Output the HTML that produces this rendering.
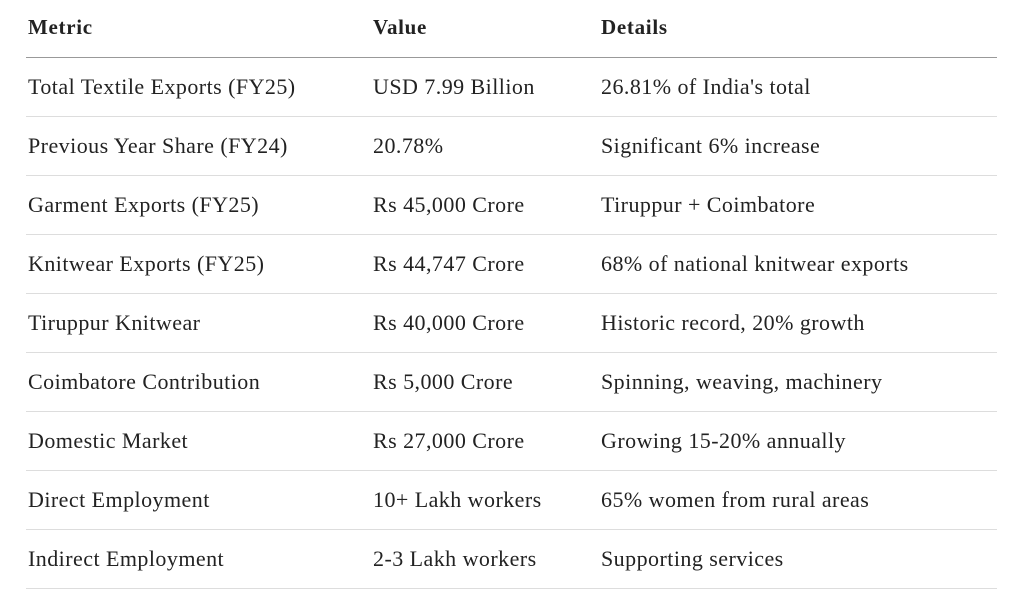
<!DOCTYPE html>
<html><head><style>
body{margin:0;width:1024px;height:613px;background:#fff;font-family:"Liberation Serif",serif;color:#222;overflow:hidden}
.r{position:absolute;left:26px;width:971px;height:59px}
.r span{position:absolute;font-size:22px;letter-spacing:0.45px;line-height:24px;top:17px;white-space:nowrap}
.a{left:2px}.b{left:347px}.c{left:575px}
.l{position:absolute;left:26px;width:971px;height:1px;background:#ddd}
.h span{font-weight:bold;top:15px;font-size:21px;letter-spacing:0.7px}
</style></head><body>
<div class="r h" style="top:0"><span class="a">Metric</span><span class="b">Value</span><span class="c">Details</span></div>
<div class="l" style="top:57px;background:#999"></div>
<div class="r" style="top:58px"><span class="a">Total Textile Exports (FY25)</span><span class="b">USD 7.99 Billion</span><span class="c">26.81% of India's total</span></div>
<div class="l" style="top:116px"></div>
<div class="r" style="top:117px"><span class="a">Previous Year Share (FY24)</span><span class="b">20.78%</span><span class="c">Significant 6% increase</span></div>
<div class="l" style="top:175px"></div>
<div class="r" style="top:176px"><span class="a">Garment Exports (FY25)</span><span class="b">Rs 45,000 Crore</span><span class="c">Tiruppur + Coimbatore</span></div>
<div class="l" style="top:234px"></div>
<div class="r" style="top:235px"><span class="a">Knitwear Exports (FY25)</span><span class="b">Rs 44,747 Crore</span><span class="c">68% of national knitwear exports</span></div>
<div class="l" style="top:293px"></div>
<div class="r" style="top:294px"><span class="a">Tiruppur Knitwear</span><span class="b">Rs 40,000 Crore</span><span class="c">Historic record, 20% growth</span></div>
<div class="l" style="top:352px"></div>
<div class="r" style="top:353px"><span class="a">Coimbatore Contribution</span><span class="b">Rs 5,000 Crore</span><span class="c">Spinning, weaving, machinery</span></div>
<div class="l" style="top:411px"></div>
<div class="r" style="top:412px"><span class="a">Domestic Market</span><span class="b">Rs 27,000 Crore</span><span class="c">Growing 15-20% annually</span></div>
<div class="l" style="top:470px"></div>
<div class="r" style="top:471px"><span class="a">Direct Employment</span><span class="b">10+ Lakh workers</span><span class="c">65% women from rural areas</span></div>
<div class="l" style="top:529px"></div>
<div class="r" style="top:530px"><span class="a">Indirect Employment</span><span class="b">2-3 Lakh workers</span><span class="c">Supporting services</span></div>
<div class="l" style="top:588px"></div>
</body></html>
